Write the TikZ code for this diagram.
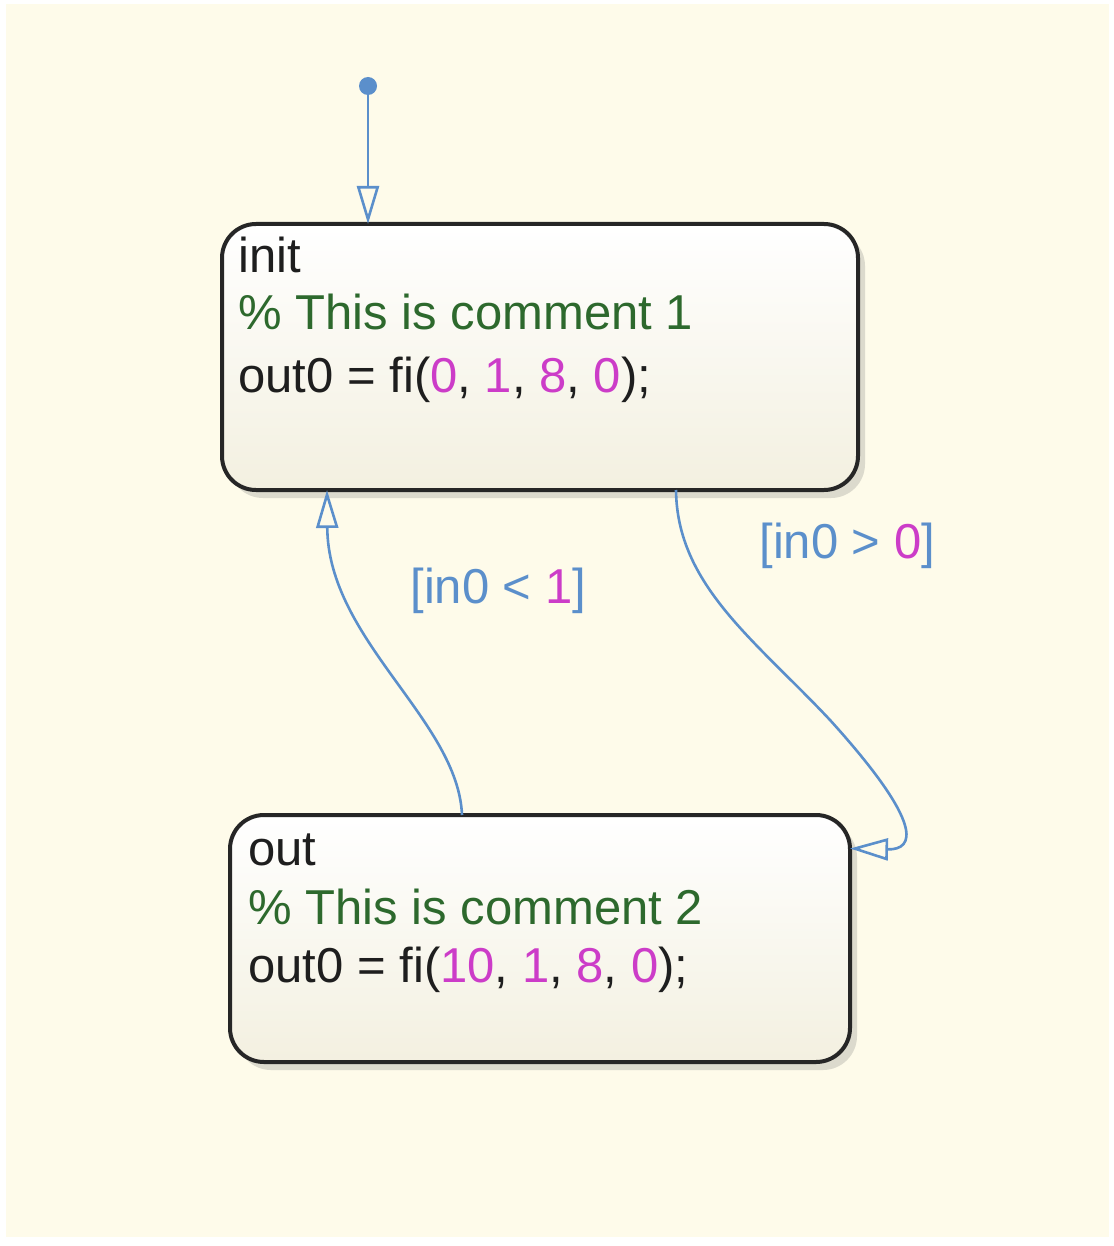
\documentclass[tikz,border=0pt]{standalone}
\usepackage{fontspec}
\setmainfont{Liberation Sans}[Ligatures=CommonOff]
\usetikzlibrary{arrows.meta}
\usetikzlibrary{shadows}

\definecolor{bgcream}{RGB}{254,251,234}
\definecolor{statebottom}{RGB}{243,240,224}
\definecolor{stateborder}{RGB}{38,38,38}
\definecolor{transblue}{RGB}{91,143,203}
\definecolor{numpink}{RGB}{204,60,200}
\definecolor{commentgreen}{RGB}{45,105,45}
\definecolor{codeblack}{RGB}{30,30,30}

\newcommand{\numc}[1]{\textcolor{numpink}{#1}}

\begin{document}
\begin{tikzpicture}[
  x=0.5pt,y=-0.5pt,
  >={Triangle[open,length=19pt,width=11pt]},
  every node/.style={font=\fontsize{24.5}{30}\selectfont},
  state/.style={draw=stateborder,line width=2pt,rectangle,rounded corners=17pt,outer sep=0pt,
    top color=white,bottom color=statebottom,
    drop shadow={shadow xshift=3.5pt,shadow yshift=-4pt,opacity=0.22,fill=black!60}},
  title/.style={anchor=base west,inner sep=0pt,text=codeblack},
  comment/.style={anchor=base west,inner sep=0pt,text=commentgreen},
  code/.style={anchor=base west,inner sep=0pt,text=codeblack},
  guard/.style={anchor=base west,inner sep=0pt,text=transblue},
  trans/.style={draw=transblue,line width=1.3pt},
  initdot/.style={circle,fill=transblue,inner sep=0pt,minimum size=9pt}]

  % background
  \fill[white] (0,0) rectangle (1113,1246);
  \fill[bgcream] (6,4) rectangle (1109,1237);

  % states
  \node[state,minimum width=318pt,minimum height=133pt] (init) at (540,357) {};
  \node[title] (initname) at ([shift={(16,48)}]init.north west) {init};
  \node[comment] (initcomment) at ([shift={(16,105)}]init.north west) {\% This is comment 1};
  \node[code] (initcode) at ([shift={(16,168)}]init.north west) {out0 = fi(\numc{0}, \numc{1}, \numc{8}, \numc{0});};

  \node[state,minimum width=310pt,minimum height=123.5pt] (out) at (540,938.5) {};
  \node[title] (outname) at ([shift={(18,50)}]out.north west) {out};
  \node[comment] (outcomment) at ([shift={(18,109)}]out.north west) {\% This is comment 2};
  \node[code] (outcode) at ([shift={(18,167)}]out.north west) {out0 = fi(\numc{10}, \numc{1}, \numc{8}, \numc{0});};

  % default transition
  \node[initdot] (start) at (368,86) {};
  \draw[trans,->] (start) -- (start |- init.north);

  % transitions
  \draw[trans,->] ([shift={(136,0)}]init.south) .. controls (677,585) and (755,640) .. (830,720)
    .. controls (925,825) and (915,850) .. ([shift={(0,-90)}]out.east);
  \draw[trans,->] ([shift={(-78,0)}]out.north) .. controls (458,720) and (328,640) .. ([shift={(-213,0)}]init.south);

  % guards
  \node[guard] (guardback) at (410,603) {[in0 < \numc{1}]};
  \node[guard] (guardfwd) at (759,558) {[in0 > \numc{0}]};

\end{tikzpicture}
\end{document}
